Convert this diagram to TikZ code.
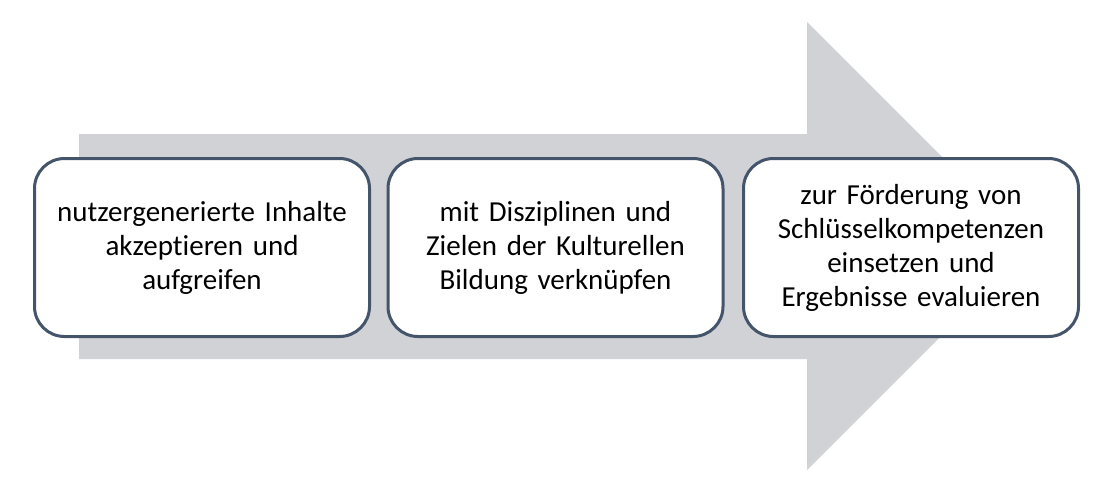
\documentclass[tikz,border=0pt]{standalone}
\usepackage{fontspec}
\setmainfont{Carlito}[Ligatures={NoCommon}]
\definecolor{arrowgray}{RGB}{208,210,214}
\definecolor{boxborder}{RGB}{68,84,106}
\begin{document}
\begin{tikzpicture}[x=1pt,y=-1pt,
  stepbox/.style={draw=boxborder, line width=3pt, fill=white, rounded corners=30pt,
    minimum width=335pt, minimum height=178pt, align=center, text width=320pt,
    font=\fontsize{29pt}{34pt}\selectfont, text=black, inner sep=0pt}]
\useasboundingbox (0,0) rectangle (1100,485);
\fill[arrowgray] (79,134) -- (807,134) -- (807,22) -- (1031,246) -- (807,470) -- (807,359) -- (79,359) -- cycle;
\node[stepbox] (b1) at (202,247.5) {nutzergenerierte Inhalte\\akzeptieren und\\aufgreifen};
\node[stepbox] (b2) at (555.5,247.5) {mit Disziplinen und\\Zielen der Kulturellen\\Bildung verknüpfen};
\node[stepbox] (b3) at (911,247.5) {zur Förderung von\\Schlüsselkompetenzen\\einsetzen und\\Ergebnisse evaluieren};
\end{tikzpicture}
\end{document}
